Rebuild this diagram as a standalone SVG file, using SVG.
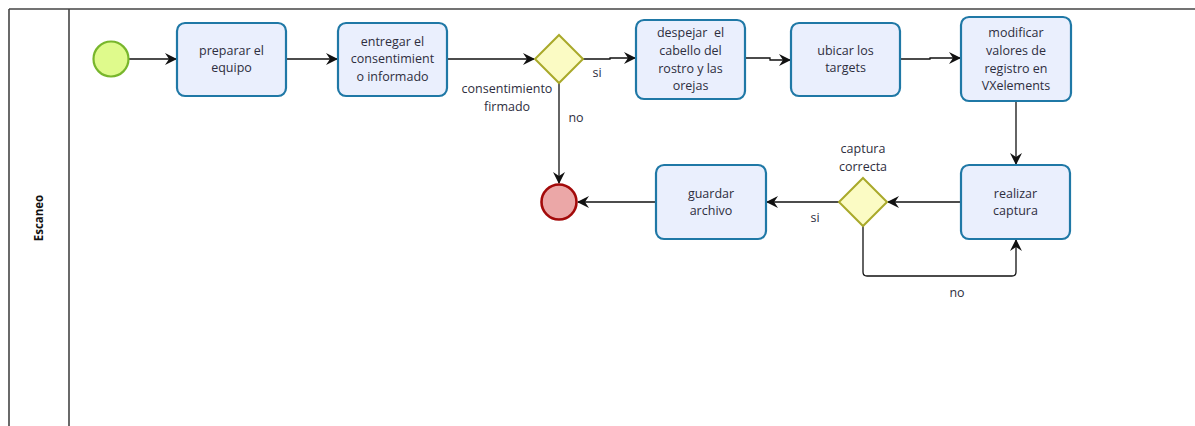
<svg xmlns="http://www.w3.org/2000/svg" width="1195" height="426" viewBox="0 0 1195 426">
  <style>
    .task { fill: #eaeffd; stroke: #1f78a6; stroke-width: 2.2; }
    .gw { fill: #fbfbc4; stroke: #a9a92a; stroke-width: 2; }
    .lbl { font-family: "Open Sans", "Noto Sans", sans-serif; font-size: 12.5px; fill: #2e2e3e; text-anchor: middle; }
    .edge { fill: none; stroke: #111; stroke-width: 1.3; }
    .pool { fill: none; stroke: #444; stroke-width: 1.6; }
  </style>
  <defs>
    <marker id="arrow" viewBox="0 0 12 12" refX="11" refY="6" markerWidth="12" markerHeight="12" markerUnits="userSpaceOnUse" orient="auto">
      <path d="M0,0 L12,6 L0,12 L4,6 z" fill="#111"/>
    </marker>
  </defs>

  <rect width="1195" height="426" fill="#ffffff"/>

  <!-- pool with lane header -->
  <g id="pool">
    <line class="pool" x1="9" y1="9" x2="1195" y2="9"/>
    <line class="pool" x1="9" y1="9" x2="9" y2="426"/>
    <line class="pool" x1="69" y1="9" x2="69" y2="426"/>
    <text x="43" y="218" transform="rotate(-90 43 218)" font-family="Open Sans, Noto Sans, sans-serif" font-size="11.5" font-weight="bold" fill="#111" text-anchor="middle">Escaneo</text>
  </g>

  <!-- connectors -->
  <g id="connectors">
    <path class="edge" d="M129,59 H176" marker-end="url(#arrow)"/>
    <path class="edge" d="M287,59 H337" marker-end="url(#arrow)"/>
    <path class="edge" d="M448,59 H534" marker-end="url(#arrow)"/>
    <path class="edge" d="M583,59 H610 V58 H635" marker-end="url(#arrow)"/>
    <path class="edge" d="M746,58 H770 V60 H790" marker-end="url(#arrow)"/>
    <path class="edge" d="M901,59 H930 V58 H960" marker-end="url(#arrow)"/>
    <path class="edge" d="M1016,102 V164" marker-end="url(#arrow)"/>
    <path class="edge" d="M960,202 H888" marker-end="url(#arrow)"/>
    <path class="edge" d="M839,202 H767" marker-end="url(#arrow)"/>
    <path class="edge" d="M655,202 H578" marker-end="url(#arrow)"/>
    <path class="edge" d="M559,83 V183" marker-end="url(#arrow)"/>
    <path class="edge" d="M863,226 V272 Q863,276 867,276 H1012 Q1016,276 1016,272 V240" marker-end="url(#arrow)"/>
    <text class="lbl" x="597" y="77">si</text>
    <text class="lbl" x="576" y="122">no</text>
    <text class="lbl" x="815" y="222">si</text>
    <text class="lbl" x="957" y="297">no</text>
  </g>

  <!-- start event -->
  <g id="start">
    <circle cx="111" cy="59" r="17.5" fill="#dffa8c" stroke="#78b62c" stroke-width="2.2"/>
  </g>

  <g id="preparar">
    <rect class="task" x="177" y="23" width="109" height="73" rx="8"/>
    <text class="lbl" x="231.5" y="55">preparar el</text>
    <text class="lbl" x="231.5" y="72">equipo</text>
  </g>

  <g id="entregar">
    <rect class="task" x="338" y="23" width="109" height="73" rx="8"/>
    <text class="lbl" x="392.5" y="46">entregar el</text>
    <text class="lbl" x="392.5" y="63">consentimient</text>
    <text class="lbl" x="392.5" y="81">o informado</text>
  </g>

  <g id="consentimiento">
    <polygon class="gw" points="559,35 583,59 559,83 535,59"/>
    <text class="lbl" x="507" y="93">consentimiento</text>
    <text class="lbl" x="507" y="111">firmado</text>
  </g>

  <g id="despejar">
    <rect class="task" x="636" y="20" width="109" height="79" rx="8"/>
    <text class="lbl" x="690.5" y="37" style="white-space: pre">despejar  el</text>
    <text class="lbl" x="690.5" y="55">cabello del</text>
    <text class="lbl" x="690.5" y="73">rostro y las</text>
    <text class="lbl" x="690.5" y="90">orejas</text>
  </g>

  <g id="ubicar">
    <rect class="task" x="791" y="23" width="109" height="73" rx="8"/>
    <text class="lbl" x="845.5" y="55">ubicar los</text>
    <text class="lbl" x="845.5" y="72">targets</text>
  </g>

  <g id="modificar">
    <rect class="task" x="961" y="17" width="110" height="84" rx="8"/>
    <text class="lbl" x="1016" y="37">modificar</text>
    <text class="lbl" x="1016" y="55">valores de</text>
    <text class="lbl" x="1016" y="73">registro en</text>
    <text class="lbl" x="1016" y="90">VXelements</text>
  </g>

  <g id="realizar">
    <rect class="task" x="961" y="165" width="109" height="74" rx="8"/>
    <text class="lbl" x="1015.5" y="198">realizar</text>
    <text class="lbl" x="1015.5" y="215">captura</text>
  </g>

  <g id="captura-correcta">
    <polygon class="gw" points="863,178 887,202 863,226 839,202"/>
    <text class="lbl" x="863" y="153">captura</text>
    <text class="lbl" x="863" y="171">correcta</text>
  </g>

  <g id="guardar">
    <rect class="task" x="656" y="165" width="110" height="74" rx="8"/>
    <text class="lbl" x="711" y="198">guardar</text>
    <text class="lbl" x="711" y="215">archivo</text>
  </g>

  <!-- end event -->
  <g id="end">
    <circle cx="559" cy="202" r="17.5" fill="#eba7a7" stroke="#a30a0a" stroke-width="2.6"/>
  </g>
</svg>
